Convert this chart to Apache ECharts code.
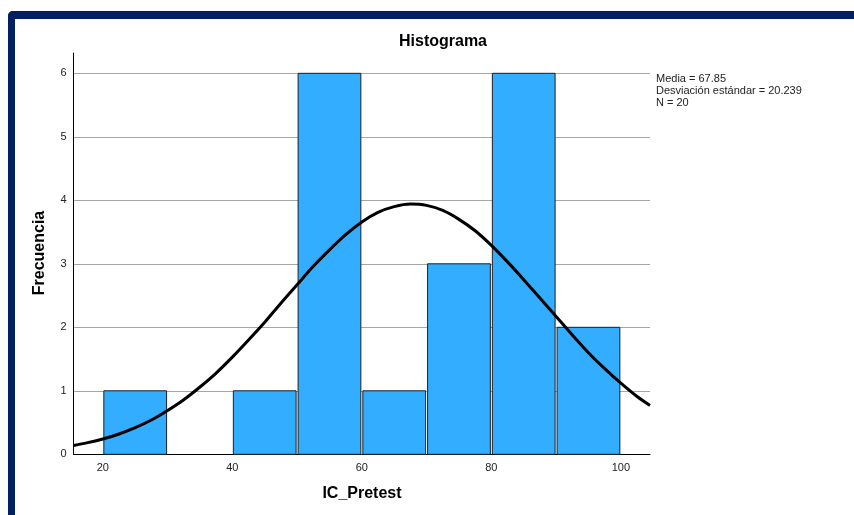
<!DOCTYPE html>
<html>
<head>
<meta charset="utf-8">
<script src="https://cdn.jsdelivr.net/npm/echarts@6/dist/echarts.min.js"></script>
<style>
  html, body { margin:0; padding:0; background:#fff; width:854px; height:515px; overflow:hidden; }
  #frame { position:absolute; left:8px; top:11px; width:900px; height:560px; border-top:8px solid #00205f; border-left:7px solid #00205f; border-top-left-radius:5px; box-sizing:border-box; }
  #chart { position:absolute; left:0; top:0; width:854px; height:515px; }
</style>
</head>
<body>
<div id="frame"></div>
<div id="chart"></div>
<script>
// Histogram bins (lower edge, upper edge) and frequencies
const binStart = [20, 30, 40, 50, 60, 70, 80, 90];
const binEnd   = [30, 40, 50, 60, 70, 80, 90, 100];
const counts   = [1, 0, 1, 6, 1, 3, 6, 2];
// Normal curve
const curveX = [15.5, 17.5, 20, 22.5, 25, 27.5, 30, 32.5, 35, 37.5, 40, 42.5, 45, 47.5, 50, 52.5, 55, 57.5, 60, 62.5, 65, 67.5, 70, 72.5, 75, 77.5, 80, 82.5, 85, 87.5, 90, 92.5, 95, 97.5, 100, 102.5, 104.5];
const curveY = [0.14, 0.18, 0.24, 0.32, 0.42, 0.54, 0.69, 0.86, 1.06, 1.28, 1.53, 1.80, 2.08, 2.38, 2.67, 2.96, 3.22, 3.46, 3.66, 3.81, 3.90, 3.94, 3.92, 3.84, 3.70, 3.52, 3.29, 3.03, 2.75, 2.46, 2.17, 1.88, 1.60, 1.35, 1.12, 0.91, 0.77];
const xTicks = [20, 40, 60, 80, 100];
const yTicks = [0, 1, 2, 3, 4, 5, 6];
const statsLines = ['Media = 67.85', 'Desviación estándar = 20.239', 'N = 20'];
const titleText = 'Histograma';
const xName = 'IC_Pretest';
const yName = 'Frecuencia';

const FONT = '"Liberation Sans", Arial, sans-serif';
const barData = binStart.map((s, i) => [s, binEnd[i], counts[i]]).filter(d => d[2] > 0);
const curveData = curveX.map((x, i) => [x, curveY[i]]);

const chart = echarts.init(document.getElementById('chart'), null, { renderer: 'canvas' });
chart.setOption({
  animation: false,
  backgroundColor: 'transparent',
  title: {
    text: titleText, left: 438, top: 29, textAlign: 'center',
    textStyle: { fontFamily: FONT, fontSize: 16, fontWeight: 'bold', color: '#000' }
  },
  grid: { left: 73.7, right: 204, top: 53, bottom: 60.7, containLabel: false },
  xAxis: {
    type: 'value', min: 15.5, max: 104.5,
    axisLine: { show: true, onZero: false, lineStyle: { color: '#000', width: 1 } },
    axisTick: { show: false },
    splitLine: { show: false },
    axisLabel: { customValues: xTicks, margin: 8, fontFamily: FONT, fontSize: 11, color: '#222' }
  },
  yAxis: {
    type: 'value', min: 0, max: 6.32, interval: 1,
    axisLine: { show: true, lineStyle: { color: '#000', width: 1 } },
    axisTick: { show: false },
    splitLine: { show: true, showMaxLine: false, showMinLine: false, lineStyle: { color: '#a6a6a6', width: 1 } },
    axisLabel: {
      margin: 7, fontFamily: FONT, fontSize: 11, color: '#222',
      formatter: v => (yTicks.indexOf(v) >= 0 ? String(v) : '')
    }
  },
  graphic: [
    { type: 'text', x: 40, y: 253, rotation: Math.PI / 2,
      style: { text: yName, font: 'bold 16px ' + FONT, fill: '#000', textAlign: 'center', textVerticalAlign: 'middle' } },
    { type: 'text', x: 362, y: 494,
      style: { text: xName, font: 'bold 16px ' + FONT, fill: '#000', textAlign: 'center', textVerticalAlign: 'middle' } },
    { type: 'text', left: 656, top: 73,
      style: { text: statsLines.join('\n'), font: '11px ' + FONT, lineHeight: 12, fill: '#222' } }
  ],
  series: [
    {
      type: 'custom',
      data: barData,
      encode: { x: [0, 1], y: 2 },
      z: 2,
      renderItem: function (params, api) {
        const p0 = api.coord([api.value(0), api.value(2)]);
        const p1 = api.coord([api.value(1), 0]);
        return {
          type: 'rect',
          shape: { x: p0[0] + 1, y: p0[1], width: p1[0] - p0[0] - 2, height: p1[1] - p0[1] },
          style: { fill: '#33adff', stroke: '#1f1f1f', lineWidth: 1 }
        };
      }
    },
    {
      type: 'line',
      data: curveData,
      smooth: 0.3,
      symbol: 'none',
      z: 5,
      lineStyle: { color: '#000', width: 3 }
    }
  ]
});
</script>
</body>
</html>
